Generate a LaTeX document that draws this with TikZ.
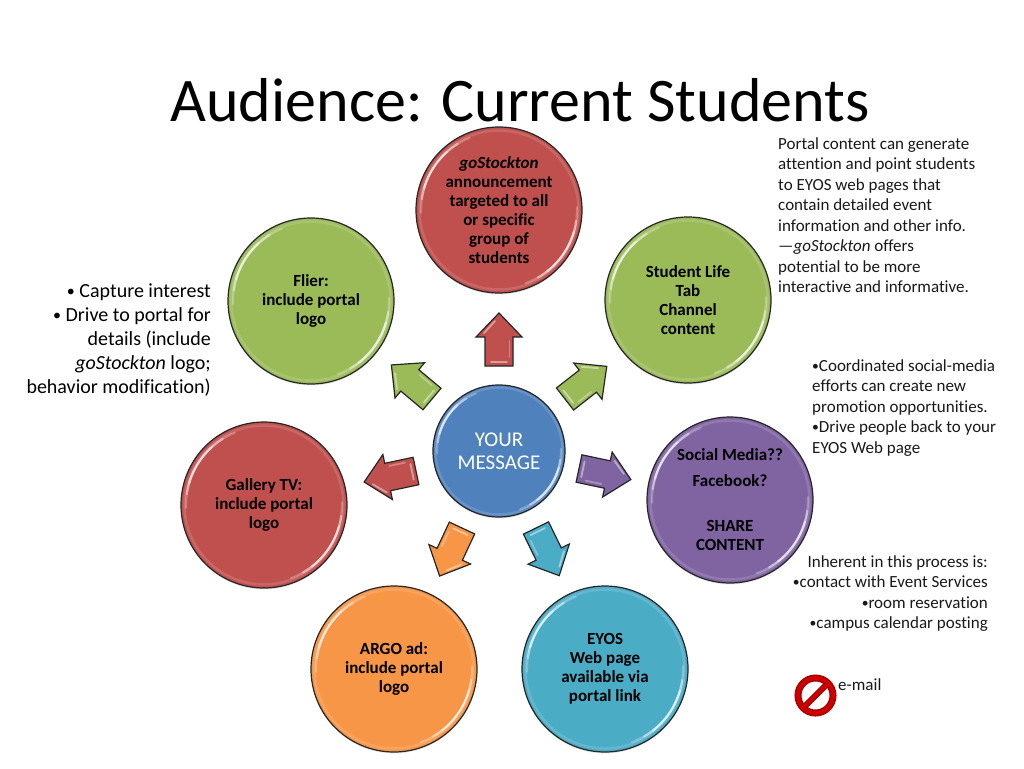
\documentclass[tikz,border=0pt]{standalone}
\usepackage{fontspec}
\setmainfont{Carlito}[Ligatures=NoCommon]
\usetikzlibrary{shadows}
\definecolor{cred}{RGB}{192,80,77}
\definecolor{cgreen}{RGB}{155,187,89}
\definecolor{cblue}{RGB}{79,129,189}
\definecolor{cpurple}{RGB}{128,100,162}
\definecolor{corange}{RGB}{247,150,70}
\definecolor{caqua}{RGB}{75,172,198}
\newcommand\smallbul{\raisebox{.12ex}{\scalebox{.8}{•}}}
\tikzset{
  x=1pt,y=-1pt,
  ball/.style={circle,draw=black!85,line width=1.2pt,minimum size=#1,inner sep=0pt,align=center,
    font=\fontsize{17}{19}\selectfont\bfseries,text=black,
    drop shadow={shadow xshift=0pt,shadow yshift=-1.5pt,opacity=.18}},
  sidetext/.style={inner sep=0pt,font=\fontsize{17}{20.5}\selectfont,text=black!90},
  leftnote/.style={inner sep=0pt,align=right,anchor=east,font=\fontsize{20}{24}\selectfont,text=black},
  glint/.style={white,line cap=round,line join=round},
  gloss/.pic={
    \draw[white,opacity=.14,line width=2.5pt] (0,0) circle (\glossr+1.5);
    \foreach \a/\b/\o/\w in {178/248/.25/2.2,188/238/.4/2.2,196/228/.55/2,-2/70/.25/2.2,8/60/.4/2.2,16/52/.55/2}{
      \draw[glint,opacity=\o,line width=\w pt] plot[domain=\a:\b,samples=24] ({\glossr*cos(\x)},{\glossr*sin(\x)});
    }
  },
  pics/blockarrow/.style={code={
    \draw[fill=#1,draw=black!85,line width=1.2pt,line join=miter]
      (0,-14)--(29,-14)--(29,-23)--(53,0)--(29,23)--(29,14)--(0,14)--cycle;
    \draw[glint,opacity=.45,line width=1.8pt] (4,-8)--(4,8);
    \draw[glint,opacity=.45,line width=1.8pt] (33,-15)--(45,-4);
    \draw[glint,opacity=.3,line width=1.8pt] (9,10.5)--(25,10.5);
  }},
}
\begin{document}
\begin{tikzpicture}
\useasboundingbox (0,0) rectangle (1024,768);
\fill[white] (0,0) rectangle (1024,768);

\node[inner sep=0pt,font=\fontsize{62}{62}\selectfont,text=black] (title) at (520,100) {Audience: Current Students};

% arrows
\pic[rotate=90] at (499,366) {blockarrow=cred};
\pic[rotate=38] at (565,399) {blockarrow=cgreen};
\pic[rotate=140] at (432,399) {blockarrow=cgreen};
\pic[rotate=192] at (416,471) {blockarrow=cred};
\pic[rotate=-12] at (579,468.5) {blockarrow=cpurple};
\pic[rotate=245] at (462,528) {blockarrow=corange};
\pic[rotate=-64] at (536,528) {blockarrow=caqua};

% balls
\node[ball=132pt,fill=cblue,text=white,font=\fontsize{21}{23}\selectfont] (msg) at (499,451) {YOUR\\MESSAGE};
\def\glossr{62} \pic at (msg) {gloss};
\node[ball=166pt,fill=cred] (go) at (499,210) {\textit{goStockton}\\announcement\\targeted to all\\or specific\\group of\\students};
\node[ball=166pt,fill=cgreen] (flier) at (311,301) {Flier:\\include portal\\logo};
\node[ball=166pt,fill=cgreen] (life) at (688,300) {Student Life\\Tab\\Channel\\content};
\node[ball=166pt,fill=cred] (tv) at (264,505) {Gallery TV:\\include portal\\logo};
\node[ball=166pt,fill=cpurple] (social) at (730,500) {Social Media??\\[7pt]Facebook?\\[26pt]SHARE\\CONTENT};
\node[ball=166pt,fill=corange] (argo) at (394,669) {ARGO ad:\\include portal\\logo};
\node[ball=166pt,fill=caqua] (eyos) at (605,669) {EYOS\\Web page\\available via\\portal link};
\def\glossr{78}
\foreach \n in {go,flier,life,tv,social,argo,eyos}{\pic at (\n) {gloss};}

% side notes
\node[sidetext,align=left,anchor=north west] (portal) at (778,137) {Portal content can generate\\attention and point students\\to EYOS web pages that\\contain detailed event\\information and other info.\\—\textit{goStockton} offers\\potential to be more\\interactive and informative.};
\node[leftnote] (capture) at (211,340) {\smallbul\ Capture interest\\\smallbul\ Drive to portal for\\details (include\\\textit{goStockton} logo;\\behavior modification)};
\node[sidetext,align=left,anchor=north west] (coord) at (812,359) {\smallbul Coordinated social-media\\efforts can create new\\promotion opportunities.\\\smallbul Drive people back to your\\EYOS Web page};
\node[sidetext,align=right,anchor=north east] (inherent) at (988,555) {Inherent in this process is:\\\smallbul contact with Event Services\\\smallbul room reservation\\\smallbul campus calendar posting};
\node[sidetext,anchor=west] (email) at (838,685) {e-mail};

% prohibition sign
\draw[fill=none,draw=red!65!black,line width=7pt] (815.5,695.5) circle (17.5);
\draw[draw=red!65!black,line width=6pt] (803.5,707.5)--(827.5,683.5);
\draw[draw=red!80!black,line width=3.5pt] (803.5,707.5)--(827.5,683.5);
\draw[draw=red!80!black,line width=4pt] (815.5,695.5) circle (17.5);
\end{tikzpicture}
\end{document}
